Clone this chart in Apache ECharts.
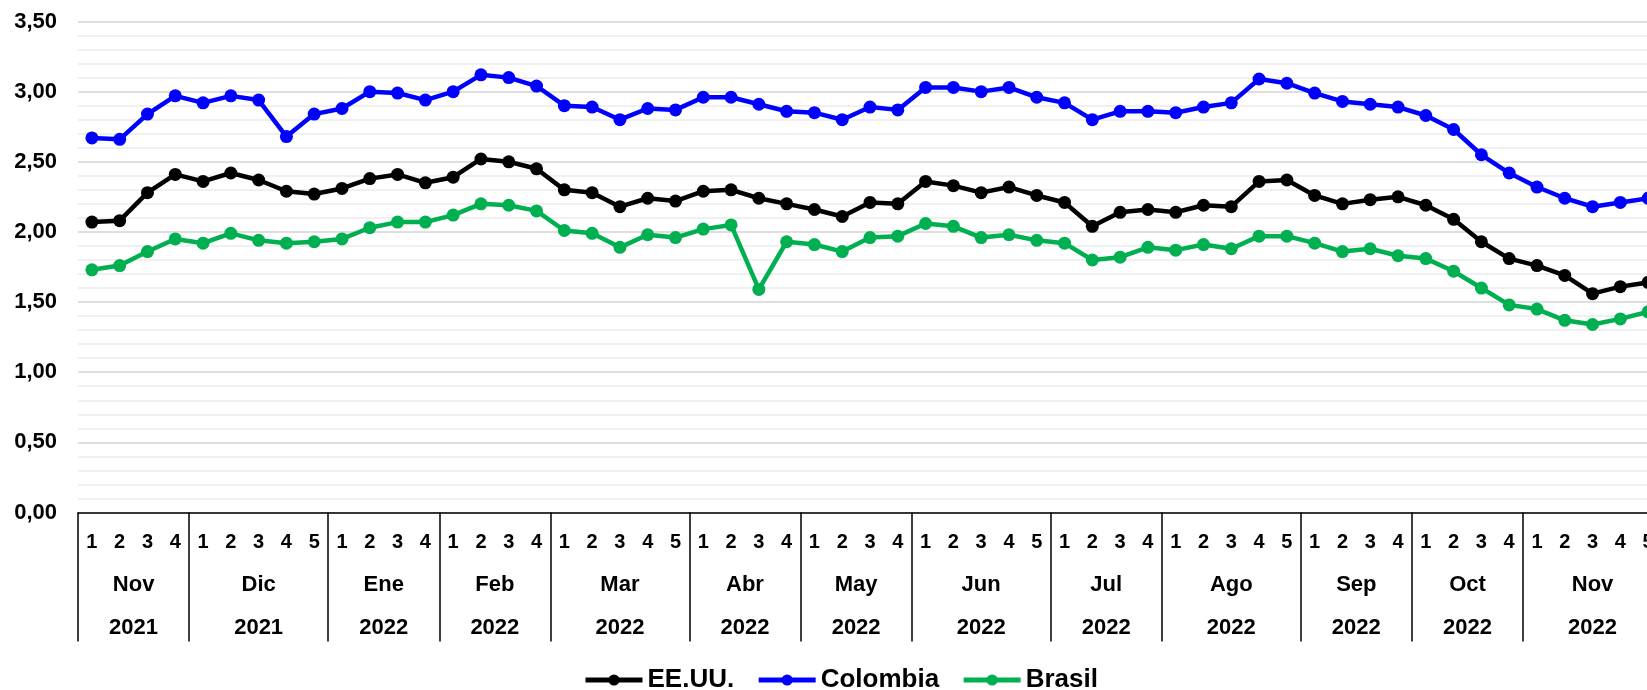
<!DOCTYPE html>
<html>
<head>
<meta charset="utf-8">
<script src="https://cdn.jsdelivr.net/npm/echarts@6/dist/echarts.min.js"></script>
<style>
html,body{margin:0;padding:0;background:#fff;}
#c{width:1647px;height:690px;}
</style>
</head>
<body>
<div id="c"></div>
<script>
// ---- data ----
const months = ['Nov','Dic','Ene','Feb','Mar','Abr','May','Jun','Jul','Ago','Sep','Oct','Nov'];
const years = ['2021','2021','2022','2022','2022','2022','2022','2022','2022','2022','2022','2022','2022'];
const weeksPerMonth = [4,5,4,4,5,4,4,5,4,5,4,4,5];
const yTicks = [0,0.5,1,1.5,2,2.5,3,3.5];

const eeuu = [2.07,2.08,2.28,2.41, 2.36,2.42,2.37,2.29,2.27, 2.31,2.38,2.41,2.35, 2.39,2.52,2.50,2.45,
  2.30,2.28,2.18,2.24,2.22, 2.29,2.30,2.24,2.20, 2.16,2.11,2.21,2.20, 2.36,2.33,2.28,2.32,2.26,
  2.21,2.04,2.14,2.16, 2.14,2.19,2.18,2.36,2.37, 2.26,2.20,2.23,2.25, 2.19,2.09,1.93,1.81, 1.76,1.69,1.56,1.61,1.64];
const colombia = [2.67,2.66,2.84,2.97, 2.92,2.97,2.94,2.68,2.84, 2.88,3.00,2.99,2.94, 3.00,3.12,3.10,3.04,
  2.90,2.89,2.80,2.88,2.87, 2.96,2.96,2.91,2.86, 2.85,2.80,2.89,2.87, 3.03,3.03,3.00,3.03,2.96,
  2.92,2.80,2.86,2.86, 2.85,2.89,2.92,3.09,3.06, 2.99,2.93,2.91,2.89, 2.83,2.73,2.55,2.42, 2.32,2.24,2.18,2.21,2.24];
const brasil = [1.73,1.76,1.86,1.95, 1.92,1.99,1.94,1.92,1.93, 1.95,2.03,2.07,2.07, 2.12,2.20,2.19,2.15,
  2.01,1.99,1.89,1.98,1.96, 2.02,2.05,1.59,1.93, 1.91,1.86,1.96,1.97, 2.06,2.04,1.96,1.98,1.94,
  1.92,1.80,1.82,1.89, 1.87,1.91,1.88,1.97,1.97, 1.92,1.86,1.88,1.83, 1.81,1.72,1.60,1.48, 1.45,1.37,1.34,1.38,1.43];

// ---- build axes ----
const weekCats = [], weekLabels = [];
const boundaryIdx = new Set();
const groupLabels = {};
let s = 0;
months.forEach((m, i) => {
  const n = weeksPerMonth[i];
  boundaryIdx.add(2 * s);
  groupLabels[2 * s + n] = m + '\n' + years[i];
  for (let w = 1; w <= n; w++) {
    weekCats.push(m + years[i] + '-' + w);
    weekLabels.push(String(w));
  }
  s += n;
});
const total = weekCats.length;
const halfCats = [];
for (let j = 0; j <= 2 * total; j++) halfCats.push('h' + j);

const FONT = '"Liberation Sans", Arial, sans-serif';
const catW = 27.79;

const chart = echarts.init(document.getElementById('c'), null, {renderer: 'canvas'});
const mk = (name, data, color) => ({
  name, type: 'line', data,
  symbol: 'circle', symbolSize: 13,
  lineStyle: {color, width: 4.5},
  itemStyle: {color},
  animation: false
});

chart.setOption({
  animation: false,
  textStyle: {fontFamily: FONT},
  grid: {left: 78, top: 21.5, width: catW * total, height: 491, containLabel: false, outerBoundsMode: 'none'},
  legend: {
    left: 578, top: 662,
    itemWidth: 57, itemHeight: 14, itemGap: 22,
    lineStyle: {width: 5},
    textStyle: {fontSize: 26, fontWeight: 'bold', color: '#000', fontFamily: FONT},
    data: ['EE.UU.', 'Colombia', 'Brasil']
  },
  xAxis: [{
    type: 'category', data: weekCats, boundaryGap: true,
    axisLine: {show: true, lineStyle: {color: '#000', width: 1.5}},
    axisTick: {show: false},
    axisLabel: {
      interval: 0, margin: 20, fontSize: 20, fontWeight: 'bold', color: '#000', fontFamily: FONT,
      formatter: (v, i) => weekLabels[i]
    },
    splitLine: {show: false}
  }, {
    type: 'category', data: halfCats, boundaryGap: false, position: 'bottom', gridIndex: 0,
    axisLine: {show: false},
    axisTick: {show: true, length: 129, inside: false, interval: (idx) => boundaryIdx.has(idx),
      lineStyle: {color: '#000', width: 1.5}},
    axisLabel: {
      interval: 0, margin: 51, fontSize: 22, fontWeight: 'bold', color: '#000', fontFamily: FONT,
      lineHeight: 43,
      formatter: (v, i) => groupLabels[i] || ''
    },
    splitLine: {show: false}
  }],
  yAxis: {
    type: 'value', min: yTicks[0], max: yTicks[yTicks.length - 1], interval: 0.5,
    axisLine: {show: false}, axisTick: {show: false},
    axisLabel: {margin: 21, fontSize: 22, fontWeight: 'bold', color: '#000', fontFamily: FONT,
      formatter: v => v.toFixed(2).replace('.', ',')},
    splitLine: {show: true, lineStyle: {color: '#d4d4d4', width: 1.5}},
    minorTick: {show: false, splitNumber: 5},
    minorSplitLine: {show: true, lineStyle: {color: '#ebebeb', width: 1.5}}
  },
  series: [
    mk('EE.UU.', eeuu, '#000000'),
    mk('Colombia', colombia, '#0000ff'),
    mk('Brasil', brasil, '#00b050')
  ]
});
</script>
</body>
</html>
